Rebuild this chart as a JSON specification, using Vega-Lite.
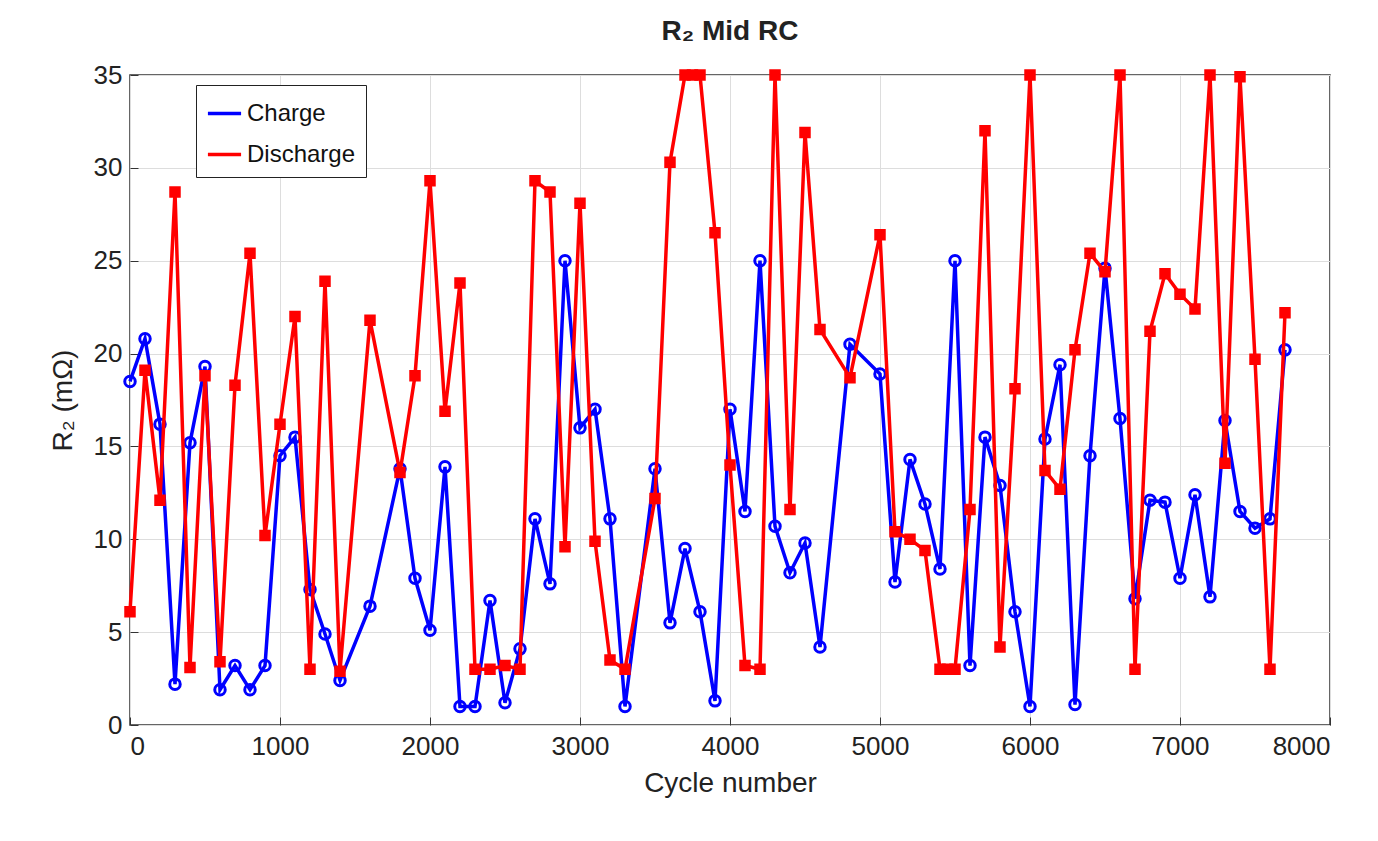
{
  "$schema": "https://vega.github.io/schema/vega-lite/v6.json",
  "width": 1200,
  "height": 650,
  "autosize": "none",
  "padding": {"left": 130, "top": 75, "right": 48, "bottom": 116},
  "background": "white",
  "title": {"text": "R₂ Mid RC", "fontSize": 28, "font": "Arial", "fontWeight": "bold", "color": "#222", "offset": 16},
  "datasets": {
    "charge": [
      {"c":0,"r":18.5},{"c":100,"r":20.8},{"c":200,"r":16.2},{"c":300,"r":2.2},{"c":400,"r":15.2},{"c":500,"r":19.3},{"c":600,"r":1.9},{"c":700,"r":3.2},{"c":800,"r":1.9},{"c":900,"r":3.2},{"c":1000,"r":14.5},{"c":1100,"r":15.5},{"c":1200,"r":7.3},{"c":1300,"r":4.9},{"c":1400,"r":2.4},{"c":1600,"r":6.4},{"c":1800,"r":13.8},{"c":1900,"r":7.9},{"c":2000,"r":5.1},{"c":2100,"r":13.9},{"c":2200,"r":1.0},{"c":2300,"r":1.0},{"c":2400,"r":6.7},{"c":2500,"r":1.2},{"c":2600,"r":4.1},{"c":2700,"r":11.1},{"c":2800,"r":7.6},{"c":2900,"r":25},{"c":3000,"r":16.0},{"c":3100,"r":17.0},{"c":3200,"r":11.1},{"c":3300,"r":1.0},{"c":3500,"r":13.8},{"c":3600,"r":5.5},{"c":3700,"r":9.5},{"c":3800,"r":6.1},{"c":3900,"r":1.3},{"c":4000,"r":17.0},{"c":4100,"r":11.5},{"c":4200,"r":25},{"c":4300,"r":10.7},{"c":4400,"r":8.2},{"c":4500,"r":9.8},{"c":4600,"r":4.2},{"c":4800,"r":20.5},{"c":5000,"r":18.9},{"c":5100,"r":7.7},{"c":5200,"r":14.3},{"c":5300,"r":11.9},{"c":5400,"r":8.4},{"c":5500,"r":25},{"c":5600,"r":3.2},{"c":5700,"r":15.5},{"c":5800,"r":12.9},{"c":5900,"r":6.1},{"c":6000,"r":1.0},{"c":6100,"r":15.4},{"c":6200,"r":19.4},{"c":6300,"r":1.1},{"c":6400,"r":14.5},{"c":6500,"r":24.6},{"c":6600,"r":16.5},{"c":6700,"r":6.8},{"c":6800,"r":12.1},{"c":6900,"r":12.0},{"c":7000,"r":7.9},{"c":7100,"r":12.4},{"c":7200,"r":6.9},{"c":7300,"r":16.4},{"c":7400,"r":11.5},{"c":7500,"r":10.6},{"c":7600,"r":11.1},{"c":7700,"r":20.2}
    ],
    "discharge": [
      {"c":0,"r":6.1},{"c":100,"r":19.1},{"c":200,"r":12.1},{"c":300,"r":28.7},{"c":400,"r":3.1},{"c":500,"r":18.8},{"c":600,"r":3.4},{"c":700,"r":18.3},{"c":800,"r":25.4},{"c":900,"r":10.2},{"c":1000,"r":16.2},{"c":1100,"r":22.0},{"c":1200,"r":3.0},{"c":1300,"r":23.9},{"c":1400,"r":2.9},{"c":1600,"r":21.8},{"c":1800,"r":13.6},{"c":1900,"r":18.8},{"c":2000,"r":29.3},{"c":2100,"r":16.9},{"c":2200,"r":23.8},{"c":2300,"r":3.0},{"c":2400,"r":3.0},{"c":2500,"r":3.2},{"c":2600,"r":3.0},{"c":2700,"r":29.3},{"c":2800,"r":28.7},{"c":2900,"r":9.6},{"c":3000,"r":28.1},{"c":3100,"r":9.9},{"c":3200,"r":3.5},{"c":3300,"r":3.0},{"c":3500,"r":12.2},{"c":3600,"r":30.3},{"c":3700,"r":35},{"c":3750,"r":35},{"c":3800,"r":35},{"c":3900,"r":26.5},{"c":4000,"r":14.0},{"c":4100,"r":3.2},{"c":4200,"r":3.0},{"c":4300,"r":35},{"c":4400,"r":11.6},{"c":4500,"r":31.9},{"c":4600,"r":21.3},{"c":4800,"r":18.7},{"c":5000,"r":26.4},{"c":5100,"r":10.4},{"c":5200,"r":10.0},{"c":5300,"r":9.4},{"c":5400,"r":3.0},{"c":5450,"r":3.0},{"c":5500,"r":3.0},{"c":5600,"r":11.6},{"c":5700,"r":32.0},{"c":5800,"r":4.2},{"c":5900,"r":18.1},{"c":6000,"r":35},{"c":6100,"r":13.7},{"c":6200,"r":12.7},{"c":6300,"r":20.2},{"c":6400,"r":25.4},{"c":6500,"r":24.4},{"c":6600,"r":35},{"c":6700,"r":3.0},{"c":6800,"r":21.2},{"c":6900,"r":24.3},{"c":7000,"r":23.2},{"c":7100,"r":22.4},{"c":7200,"r":35},{"c":7300,"r":14.1},{"c":7400,"r":34.9},{"c":7500,"r":19.7},{"c":7600,"r":3.0},{"c":7700,"r":22.2}
    ]
  },
  "encoding": {
    "x": {"field": "c", "type": "quantitative", "title": "Cycle number",
      "scale": {"domain": [0, 8000], "nice": false},
      "axis": {"values": [0,1000,2000,3000,4000,5000,6000,7000,8000], "format": "d"}},
    "y": {"field": "r", "type": "quantitative", "title": "R₂ (mΩ)",
      "scale": {"domain": [0, 35], "nice": false},
      "axis": {"values": [0,5,10,15,20,25,30,35]}}
  },
  "layer": [
    {"data": {"name": "charge"},
     "mark": {"type": "line", "color": "#0000ff", "strokeWidth": 3.5, "clip": false,
       "point": {"shape": "circle", "filled": false, "stroke": "#0000ff", "strokeWidth": 3, "size": 110}}},
    {"data": {"name": "discharge"},
     "mark": {"type": "line", "color": "#ff0000", "strokeWidth": 3.5, "clip": false,
       "point": {"shape": "square", "filled": true, "fill": "#ff0000", "stroke": "#ff0000", "size": 90}}},
    {"data": {"values": [{"s": "Charge"}, {"s": "Discharge"}]},
     "mark": {"type": "point", "opacity": 0},
     "encoding": {
       "x": {"datum": 0, "type": "quantitative"},
       "y": {"datum": 0, "type": "quantitative"},
       "color": {"field": "s", "type": "nominal", "title": null,
         "scale": {"domain": ["Charge", "Discharge"], "range": ["#0000ff", "#ff0000"]},
         "legend": {"orient": "none", "legendX": 66, "legendY": 10, "symbolType": "stroke",
           "symbolSize": 1100, "symbolStrokeWidth": 3.5, "labelFontSize": 24, "labelFont": "Arial",
           "labelColor": "#111", "strokeColor": "#222", "fillColor": "white", "padding": 10, "rowPadding": 10,
           "symbolOpacity": 1}}
     }}
  ],
  "config": {
    "view": {"stroke": "#333", "strokeWidth": 1.5},
    "axis": {"labelFont": "Arial", "titleFont": "Arial", "labelFontSize": 26, "titleFontSize": 28,
      "titleFontWeight": "normal", "labelColor": "#222", "titleColor": "#222",
      "gridColor": "#dddddd", "domain": false, "tickColor": "#333", "tickSize": -8, "labelPadding": 16},
    "axisX": {"titlePadding": 10},
    "axisY": {"titlePadding": 16}
  }
}
